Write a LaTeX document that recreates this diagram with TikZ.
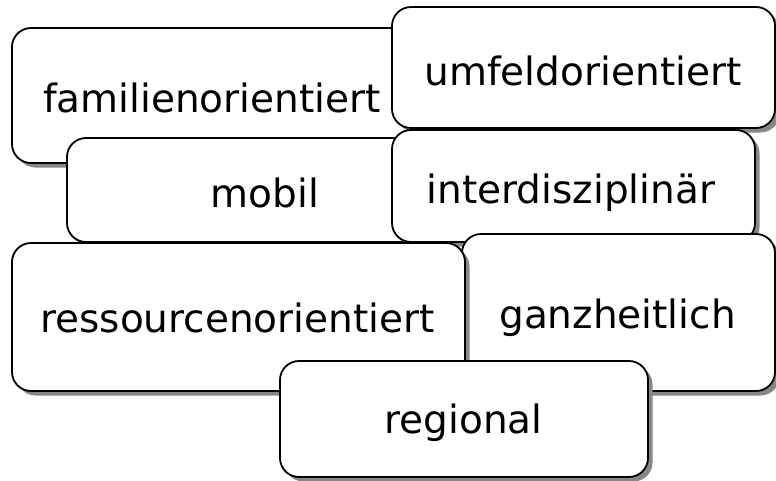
\documentclass[tikz,border=0pt]{standalone}
\usepackage{fontspec}
\setmainfont{DejaVu Sans}
\usetikzlibrary{shadows}
\begin{document}
\begin{tikzpicture}[x=1pt,y=-1pt,
  box/.style={draw=black, line width=1.8pt, fill=white, rounded corners=19pt,
    inner sep=0pt, outer sep=0pt,
    drop shadow={shadow xshift=4.5pt, shadow yshift=-4.5pt, fill=black!47, opacity=1}},
  lbl/.style={anchor=base, inner sep=0pt, font=\fontsize{39}{45}\selectfont}]
\useasboundingbox (0,0) rectangle (776,480);
\node[box, minimum width=400pt, minimum height=135pt] (fam) at (212,95.5) {};
\node[lbl] (tfam) at (212,112) {familienorientiert};
\node[box, minimum width=383pt, minimum height=121pt] (umf) at (583.5,67.5) {};
\node[lbl] (tumf) at (583,85) {umfeldorientiert};
\node[box, minimum width=353pt, minimum height=104pt] (mob) at (243.5,190) {};
\node[lbl] (tmob) at (265,207) {mobil};
\node[box, minimum width=363pt, minimum height=112pt] (int) at (573.5,186) {};
\node[lbl] (tint) at (571,203) {interdisziplinär};
\node[box, minimum width=313pt, minimum height=157pt] (gan) at (618.5,312.5) {};
\node[lbl] (tgan) at (617.5,328) {ganzheitlich};
\node[box, minimum width=453pt, minimum height=148pt] (res) at (238.5,317) {};
\node[lbl] (tres) at (237.5,332) {ressourcenorientiert};
\node[box, minimum width=368pt, minimum height=116pt] (reg) at (464,419) {};
\node[lbl] (treg) at (463.5,433) {regional};
\end{tikzpicture}
\end{document}
